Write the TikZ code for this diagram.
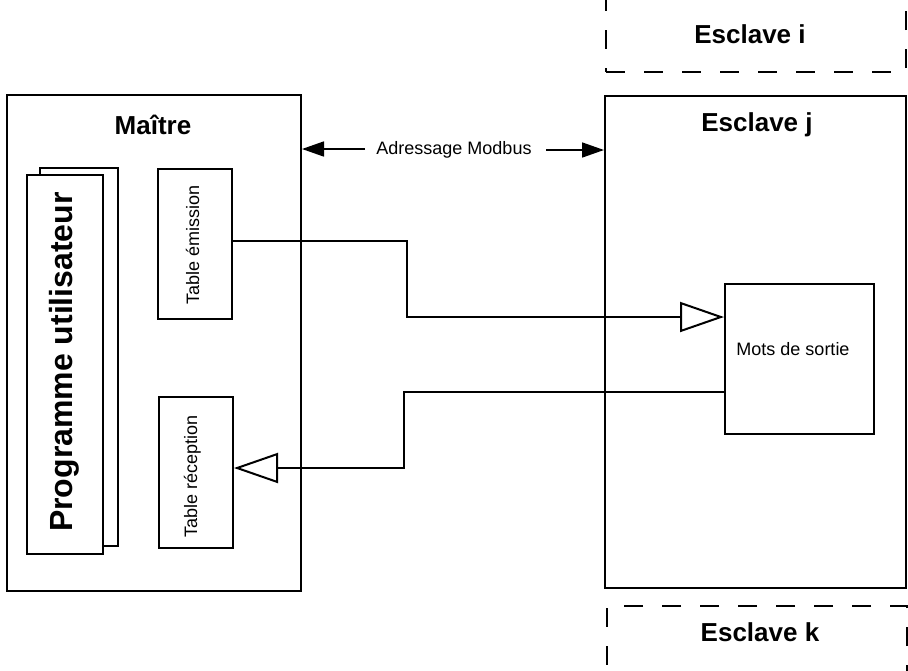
\documentclass[tikz,border=0pt]{standalone}
\usepackage{fontspec}
\setmainfont{Liberation Sans}
\usetikzlibrary{arrows.meta}
\tikzset{
  box/.style={draw, line width=2pt, fill=white, inner sep=0pt, anchor=north west},
  dbox/.style={draw, line width=2pt, dash pattern=on 19pt off 19pt, inner sep=0pt},
  bigtitle/.style={font=\fontsize{26}{30}\selectfont\bfseries, anchor=base, inner sep=0pt},
  smalltext/.style={font=\fontsize{18}{21}\selectfont, anchor=base, inner sep=0pt},
  conn/.style={line width=1.7pt},
  opentri/.style={-{Triangle[open, length=44pt, width=30pt, line width=2pt, fill=white]}},
  filltri/.style={-{Triangle[length=22pt, width=15pt]}}
}
\begin{document}
\begin{tikzpicture}[x=1pt, y=-1pt]
\useasboundingbox (0,0) rectangle (908,670);

% dashed slaves
\node[dbox, minimum width=300pt, minimum height=120pt, anchor=south west] (esi) at (605,73) {};
\node[bigtitle] (esit) at (750,43) {Esclave i};
\node[dbox, minimum width=300pt, minimum height=120pt, anchor=north west] (esk) at (606,605) {};
\node[bigtitle] (eskt) at (760,641) {Esclave k};

% master
\node[box, minimum width=294pt, minimum height=496pt] (master) at (6,94) {};
\node[bigtitle] (mt) at (153,134) {Maître};

% slave j
\node[box, minimum width=301pt, minimum height=492pt] (slavej) at (604,95) {};
\node[bigtitle] (sjt) at (757,131) {Esclave j};

% user program (stacked pages)
\node[box, minimum width=78pt, minimum height=378pt] (pback) at (39,167) {};
\node[box, minimum width=76pt, minimum height=379pt] (pfront) at (26,174) {};
\node[font=\fontsize{32}{36}\selectfont\bfseries, rotate=90, anchor=base, inner sep=0pt] (prog) at (72,362) {Programme utilisateur};

% tables
\node[box, minimum width=74pt, minimum height=150pt] (te) at (157,168) {};
\node[smalltext, rotate=90] (tet) at (199,245) {Table émission};
\node[box, minimum width=74pt, minimum height=151pt] (tr) at (158,396) {};
\node[smalltext, rotate=90] (trt) at (197,476) {Table réception};

% mots de sortie
\node[box, minimum width=149pt, minimum height=150pt] (mots) at (724,283) {};
\node[smalltext] (mt2) at (793,355) {Mots de sortie};

% Adressage Modbus
\node[smalltext] (adr) at (454,154) {Adressage Modbus};
\coordinate (al) at (365,149);
\coordinate (ar) at (546,150);
\draw[conn, filltri] (al) -- (al -| master.east);
\draw[conn, filltri] (ar) -- (ar -| slavej.west);

% connectors
\coordinate (ja) at (407,317);
\draw[conn, opentri] (te.east |- 0,241) -| (ja) -- (ja -| mots.west);
\coordinate (jb) at (404,468);
\draw[conn, opentri] (mots.west |- 0,392) -| (jb) -- (jb -| tr.east);
\end{tikzpicture}
\end{document}
